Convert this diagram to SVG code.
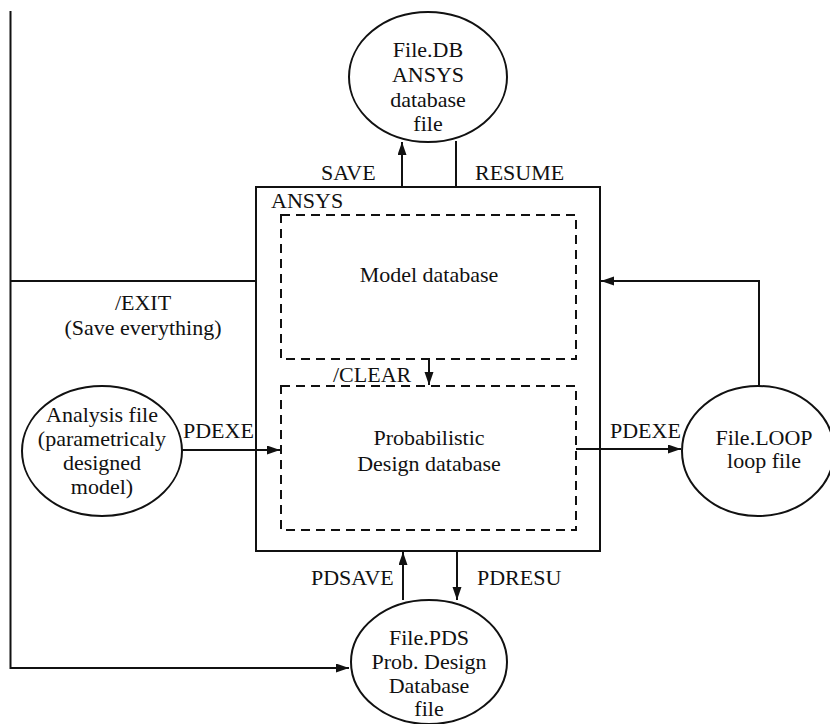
<svg xmlns="http://www.w3.org/2000/svg" width="830" height="724" viewBox="0 0 830 724">
<style>
text{font-family:"Liberation Serif","Times New Roman",serif;font-size:22px;fill:#111}
.c{text-anchor:middle}
.s{fill:none;stroke:#111;stroke-width:2}
.d{fill:none;stroke:#111;stroke-width:2;stroke-dasharray:9 6}
.e{fill:#fff;stroke:#111;stroke-width:2}
</style>
<defs>
<marker id="ah" markerUnits="userSpaceOnUse" markerWidth="14" markerHeight="10" refX="13" refY="4.5" orient="auto">
<path d="M0,0 L13,4.5 L0,9 z" fill="#111"/>
</marker>
</defs>
<rect width="830" height="724" fill="#fff"/>
<g id="ansys">
<rect class="s" x="256" y="187" width="344" height="364"/>
<text x="271" y="208">ANSYS</text>
</g>
<g id="model-db">
<rect class="d" x="281" y="215" width="295" height="144"/>
<text class="c" x="429" y="282">Model database</text>
</g>
<g id="prob-db">
<rect class="d" x="281" y="386" width="295" height="144"/>
<text class="c" x="429" y="445">Probabilistic</text>
<text class="c" x="429" y="471">Design database</text>
</g>
<g id="file-db">
<ellipse class="e" cx="428" cy="77" rx="79" ry="65"/>
<text class="c" x="428" y="57">File.DB</text>
<text class="c" x="428" y="82">ANSYS</text>
<text class="c" x="428" y="107">database</text>
<text class="c" x="428" y="131">file</text>
</g>
<g id="analysis-file">
<ellipse class="e" cx="102" cy="451" rx="80" ry="65"/>
<text class="c" x="102" y="422">Analysis file</text>
<text class="c" x="102" y="446">(parametricaly</text>
<text class="c" x="102" y="470">designed</text>
<text class="c" x="102" y="494">model)</text>
</g>
<g id="file-loop">
<ellipse class="e" cx="758" cy="451" rx="76" ry="65"/>
<text class="c" x="764" y="445">File.LOOP</text>
<text class="c" x="764" y="468">loop file</text>
</g>
<g id="file-pds">
<ellipse class="e" cx="429" cy="662" rx="78" ry="62"/>
<text class="c" x="429" y="645">File.PDS</text>
<text class="c" x="429" y="669">Prob. Design</text>
<text class="c" x="429" y="693">Database</text>
<text class="c" x="429" y="716">file</text>
</g>
<g id="connectors">
<path class="s" d="M10.5 11 V668 H349" marker-end="url(#ah)"/>
<path class="s" d="M10.5 281 H256"/>
<path class="s" d="M759 386 V281 H601" marker-end="url(#ah)"/>
<path class="s" d="M576 449 H681" marker-end="url(#ah)"/>
<path class="s" d="M182 450 H280" marker-end="url(#ah)"/>
<path class="s" d="M429 359 V385" marker-end="url(#ah)"/>
<path class="s" d="M402 187 V142" marker-end="url(#ah)"/>
<path class="s" d="M456 187 V141"/>
<path class="s" d="M403 600 V552" marker-end="url(#ah)"/>
<path class="s" d="M457 551 V600" marker-end="url(#ah)"/>
<text x="321" y="180">SAVE</text>
<text x="475" y="180">RESUME</text>
<text class="c" x="143" y="310">/EXIT</text>
<text class="c" x="143" y="335">(Save everything)</text>
<text x="183" y="438">PDEXE</text>
<text x="610" y="438">PDEXE</text>
<text x="333" y="382">/CLEAR</text>
<text x="311" y="585">PDSAVE</text>
<text x="477" y="585">PDRESU</text>
</g>
</svg>
